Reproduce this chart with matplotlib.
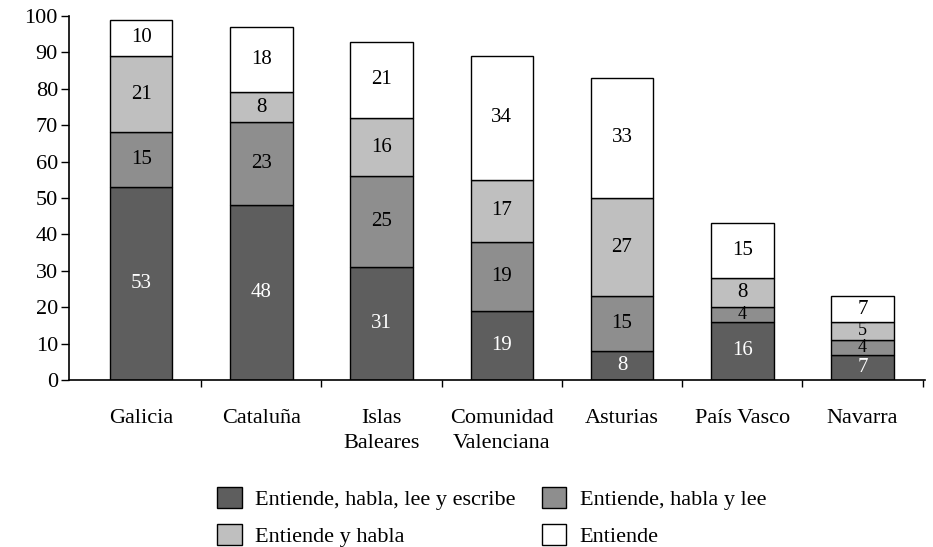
import matplotlib.pyplot as plt
import numpy as np

plt.rcParams['font.family'] = ['Liberation Serif', 'DejaVu Serif']

regiones = ['Galicia', 'Cataluña', 'Islas\nBaleares', 'Comunidad\nValenciana',
            'Asturias', 'País Vasco', 'Navarra']
escribe = [53, 48, 31, 19, 8, 16, 7]
lee = [15, 23, 25, 19, 15, 4, 4]
habla = [21, 8, 16, 17, 27, 8, 5]
entiende = [10, 18, 21, 34, 33, 15, 7]

series = [escribe, lee, habla, entiende]
nombres = ['Entiende, habla, lee y escribe', 'Entiende, habla y lee',
           'Entiende y habla', 'Entiende']
colores = ['#5e5e5e', '#8e8e8e', '#bfbfbf', 'white']
txt_col = ['white', 'black', 'black', 'black']

fig = plt.figure(figsize=(9.33, 5.47), dpi=100)
ax = fig.add_axes([0.074, 0.3053, 0.9174, 0.6654])

x = np.arange(len(regiones))
bottom = np.zeros(len(regiones))
handles = []
for vals, name, c, tc in zip(series, nombres, colores, txt_col):
    vals = np.array(vals)
    b = ax.bar(x, vals, 0.52, bottom=bottom, color=c, edgecolor='black',
               linewidth=1.0, label=name)
    handles.append(b)
    for xi, v, b0 in zip(x, vals, bottom):
        ax.text(xi, b0 + v / 2, str(v), ha='center', va='center',
                fontsize=15 if v > 5 else 13, color=tc)
    bottom += vals

ax.set_xlim(-0.6, 6.52)
ax.set_ylim(0, 100)
ax.set_yticks(np.arange(0, 101, 10))
ax.tick_params(axis='y', direction='out', length=6, width=1, labelsize=16, pad=2)

# ticks between the regions, names centred under the bars
ax.set_xticks(np.arange(0.5, 7, 1))
ax.set_xticklabels([])
ax.tick_params(axis='x', which='major', direction='out', length=5, width=1)
ax.set_xticks(x, minor=True)
ax.set_xticklabels(regiones, minor=True, fontsize=16, linespacing=1.45)
ax.tick_params(axis='x', which='minor', length=0, pad=21)

for s in ['top', 'right']:
    ax.spines[s].set_visible(False)
ax.spines['left'].set_linewidth(1.2)
ax.spines['bottom'].set_linewidth(1.2)

order = [0, 2, 1, 3]
fig.legend([handles[i] for i in order], [nombres[i] for i in order],
           loc='center', bbox_to_anchor=(0.527, 0.055), ncol=2, frameon=False,
           fontsize=16, handlelength=1.1, handleheight=1.1, handletextpad=0.6,
           columnspacing=1.2, labelspacing=0.6)

plt.savefig('out.png', dpi=100)
